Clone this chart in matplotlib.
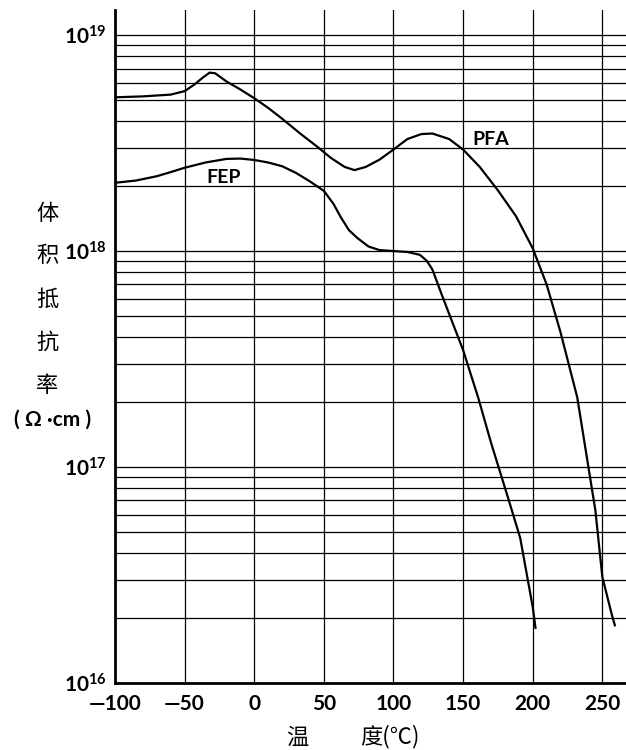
import matplotlib
matplotlib.use('Agg')
import matplotlib.pyplot as plt
import matplotlib.ticker as mticker

# volume resistivity vs temperature
pfa_temp = [-100, -80, -60, -50, -43, -37, -32, -28, -20, -10, 0, 10, 20, 33,
            45, 55, 65, 72, 80, 90, 100, 110, 120, 128, 140, 150, 162, 175,
            188, 200, 210, 220, 232, 240, 245, 250, 257, 259]
pfa_res = [5.15e18, 5.2e18, 5.3e18, 5.5e18, 5.9e18, 6.35e18, 6.7e18, 6.65e18,
           6.1e18, 5.6e18, 5.1e18, 4.6e18, 4.1e18, 3.5e18, 3.05e18, 2.7e18,
           2.45e18, 2.37e18, 2.45e18, 2.65e18, 2.95e18, 3.3e18, 3.48e18, 3.5e18,
           3.3e18, 2.95e18, 2.45e18, 1.91e18, 1.45e18, 1.03e18, 7.0e17, 4.2e17,
           2.1e17, 1.0e17, 6.3e16, 3.1e16, 2.05e16, 1.85e16]

fep_temp = [-100, -85, -70, -60, -50, -35, -20, -10, 0, 10, 20, 30, 40, 50, 57,
            62, 68, 74, 82, 90, 100, 110, 119, 124, 128, 135, 150, 161, 170,
            182, 191, 200, 202]
fep_res = [2.07e18, 2.12e18, 2.22e18, 2.32e18, 2.43e18, 2.57e18, 2.67e18,
           2.68e18, 2.64e18, 2.57e18, 2.47e18, 2.3e18, 2.1e18, 1.9e18, 1.65e18,
           1.44e18, 1.25e18, 1.15e18, 1.05e18, 1.01e18, 1.0e18, 0.99e18,
           0.96e18, 0.9e18, 8.2e17, 6.2e17, 3.48e17, 2.08e17, 1.3e17, 7.3e16,
           4.7e16, 2.25e16, 1.8e16]

x_ticks = [-100, -50, 0, 50, 100, 150, 200, 250]
x_tick_labels = ['\u2014100', '\u201450', '0', '50', '100', '150', '200', '250']
y_ticks = [1e16, 1e17, 1e18, 1e19]
y_tick_labels = [r'$\mathregular{10^{16}}$', r'$\mathregular{10^{17}}$',
                 r'$\mathregular{10^{18}}$', r'$\mathregular{10^{19}}$']
ylabel_chars = ['体', '积', '抵', '抗', '率']

plt.rcParams['font.family'] = ['Lato', 'DejaVu Sans']
plt.rcParams['mathtext.default'] = 'regular'

W, H = 626, 750
fig = plt.figure(figsize=(W / 100, H / 100), dpi=100)
ax = fig.add_axes([115 / W, 1 - 683 / H, (W - 115) / W, (683 - 10) / H])

ax.set_yscale('log')
ax.set_xlim(-100, 267)
ax.set_ylim(1e16, 10 ** 19.116)

ax.plot(pfa_temp, pfa_res, color='black', lw=1.6, zorder=3)
ax.plot(fep_temp, fep_res, color='black', lw=1.6, zorder=3)

ax.text(157, 3.3e18, 'PFA', fontsize=14, fontweight='bold',
        ha='left', va='center', zorder=4)
ax.text(-22, 2.2e18, 'FEP', fontsize=14, fontweight='bold',
        ha='center', va='center', zorder=4)

ax.set_xticks(x_ticks)
ax.set_xticklabels(x_tick_labels, fontsize=15, fontweight='bold')
ax.set_yticks(y_ticks)
ax.set_yticklabels(y_tick_labels, fontsize=15, fontweight='bold')
ax.yaxis.set_minor_locator(mticker.LogLocator(base=10, subs=range(2, 10)))
ax.yaxis.set_minor_formatter(mticker.NullFormatter())
ax.tick_params(axis='both', which='both', length=0)
ax.tick_params(axis='x', pad=8)
ax.tick_params(axis='y', pad=6)

ax.grid(True, axis='x', which='major', color='black', lw=0.9)
ax.grid(True, axis='y', which='both', color='black', lw=0.9)
ax.set_axisbelow(True)

for side in ['top', 'right']:
    ax.spines[side].set_visible(False)
for side in ['left', 'bottom']:
    ax.spines[side].set_linewidth(2)

cjk = ['Noto Sans CJK SC', 'DejaVu Sans']
for i, ch in enumerate(ylabel_chars):
    fig.text(47 / W, 1 - (213 + i * 43) / H, ch, fontsize=16, family=cjk,
             ha='center', va='center')
fig.text(53 / W, 1 - 420 / H, '( Ω \u00b7cm )', fontsize=15,
         fontweight='bold', ha='center', va='center')

fig.text(297 / W, 1 - 737 / H, '温', fontsize=16, family=cjk,
         ha='center', va='center')
fig.text(360 / W, 1 - 737 / H, '度(℃)', fontsize=16, family=cjk,
         ha='left', va='center')

fig.savefig('out.png', dpi=100)
